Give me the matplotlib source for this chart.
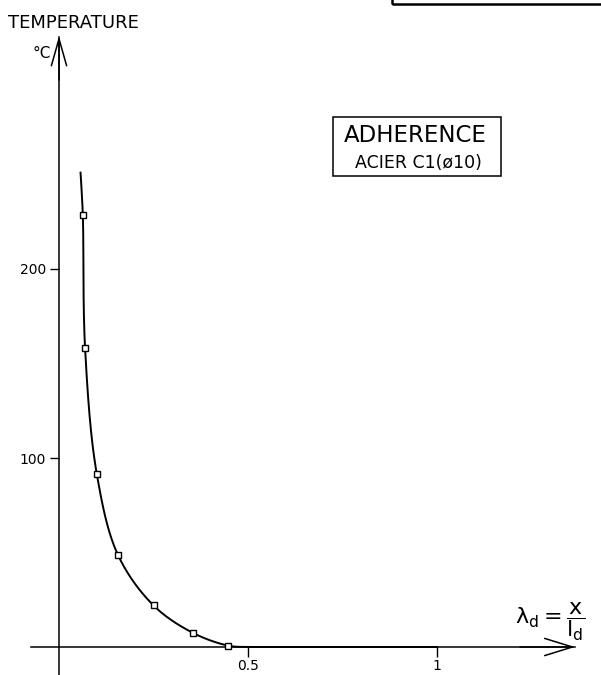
import numpy as np
import matplotlib.pyplot as plt
from matplotlib.patches import Rectangle

# points (lambda_d, température °C)
lam_points = [0.063, 0.069, 0.100, 0.156, 0.250, 0.354, 0.448]
temp_points = [228.6, 158.0, 91.5, 48.7, 22.0, 7.5, 0.7]

# tracé de la courbe (début au-dessus du 1er point, fin le long de l'axe)
lam_curve = [0.057] + lam_points + [0.50, 0.70, 1.0]
temp_curve = [251.0] + temp_points + [0.0, 0.0, 0.0]

x_ticks = [0.5, 1]
x_tick_labels = ["0.5", "1"]
y_ticks = [100, 200]
y_tick_labels = ["100", "200"]

W, H = 601, 675
# repère en pixels de la figure d'origine
X0, XS = 59, 378.0
Y0, YS = 647, 1.89


def catmull_rom(x, y, n=40):
    # spline centripète pour lisser le trait (calculée en pixels)
    P = np.column_stack([np.asarray(x) * XS, np.asarray(y) * YS])
    P = np.vstack([2 * P[0] - P[1], P, 2 * P[-1] - P[-2]])
    out = []
    for i in range(1, len(P) - 2):
        p0, p1, p2, p3 = P[i - 1], P[i], P[i + 1], P[i + 2]
        t0 = 0.0
        t1 = t0 + np.linalg.norm(p1 - p0) ** 0.5 + 1e-9
        t2 = t1 + np.linalg.norm(p2 - p1) ** 0.5 + 1e-9
        t3 = t2 + np.linalg.norm(p3 - p2) ** 0.5 + 1e-9
        t = np.linspace(t1, t2, n)[:, None]
        a1 = (t1 - t) / (t1 - t0) * p0 + (t - t0) / (t1 - t0) * p1
        a2 = (t2 - t) / (t2 - t1) * p1 + (t - t1) / (t2 - t1) * p2
        a3 = (t3 - t) / (t3 - t2) * p2 + (t - t2) / (t3 - t2) * p3
        b1 = (t2 - t) / (t2 - t0) * a1 + (t - t0) / (t2 - t0) * a2
        b2 = (t3 - t) / (t3 - t1) * a2 + (t - t1) / (t3 - t1) * a3
        out.append((t2 - t) / (t2 - t1) * b1 + (t - t1) / (t2 - t1) * b2)
    c = np.vstack(out)
    return c[:, 0] / XS, np.maximum(c[:, 1] / YS, 0)


def fx(p):
    return p / W


def fy(p):
    return 1 - p / H


plt.rcParams["mathtext.fontset"] = "dejavusans"

fig = plt.figure(figsize=(W / 100, H / 100), dpi=100)
ax = fig.add_axes([0, 0, 1, 1])
ax.set_xlim(-X0 / XS, (W - X0) / XS)
ax.set_ylim((Y0 - H) / YS, Y0 / YS)

# axes en croix avec flèches
for s in ["top", "right"]:
    ax.spines[s].set_visible(False)
ax.spines["left"].set_position(("data", 0))
ax.spines["bottom"].set_position(("data", 0))
ax.spines["left"].set_bounds((Y0 - H) / YS, (Y0 - 37) / YS)
ax.spines["bottom"].set_bounds((31 - X0) / XS, (575 - X0) / XS)
ax.spines["left"].set_linewidth(1.1)
ax.spines["bottom"].set_linewidth(1.1)

ax.set_xticks(x_ticks, x_tick_labels)
ax.set_yticks(y_ticks, y_tick_labels)
ax.tick_params(axis="x", direction="out", length=7, width=1, pad=1.5, labelsize=10)
ax.tick_params(axis="y", direction="out", length=6.5, width=1, pad=3, labelsize=10)

ax.annotate("", xy=(0, (Y0 - 36) / YS), xytext=(0, (Y0 - 80) / YS),
            arrowprops=dict(arrowstyle="->,head_length=1.94,head_width=0.55",
                            lw=1.1, color="black", shrinkA=0, shrinkB=0,
                            mutation_scale=10))
ax.annotate("", xy=((575 - X0) / XS, 0), xytext=((520 - X0) / XS, 0),
            arrowprops=dict(arrowstyle="->,head_length=2.0,head_width=0.62",
                            lw=1.1, color="black", shrinkA=0, shrinkB=0,
                            mutation_scale=10))

# courbe lissée + points
cx, cy = catmull_rom(lam_curve, temp_curve)
ax.plot(cx, cy, color="black", lw=1.4, zorder=3)
ax.plot(lam_points, temp_points, ls="none", marker="s", ms=5, mfc="white",
        mec="black", mew=1.0, zorder=4)

# textes
fig.text(fx(8), fy(28.5), "TEMPERATURE", fontsize=13, va="baseline", ha="left")
fig.text(fx(32), fy(58.5), "°C", fontsize=11, va="baseline", ha="left")

fig.patches.append(Rectangle((fx(333), fy(176)), fx(501) - fx(333), fy(117) - fy(176),
                             transform=fig.transFigure, fill=False, lw=1.1,
                             edgecolor="black"))
fig.text(fx(415.5), fy(141.7), "ADHERENCE", fontsize=16.5, va="baseline", ha="center")
fig.text(fx(418), fy(168.3), "ACIER C1(ø10)", fontsize=12.5, va="baseline", ha="center")

fig.text(fx(515), fy(622), r"$\mathrm{\lambda_d} = \dfrac{\mathrm{x}}{\mathrm{l_d}}$",
         fontsize=16, va="center", ha="left")

# cadre coupé en haut à droite
fig.patches.append(Rectangle((fx(392), fy(4)), fx(640) - fx(392), 0.1,
                             transform=fig.transFigure, fill=False, lw=1.8,
                             edgecolor="black"))

fig.savefig("out.png", dpi=100, facecolor="white")
